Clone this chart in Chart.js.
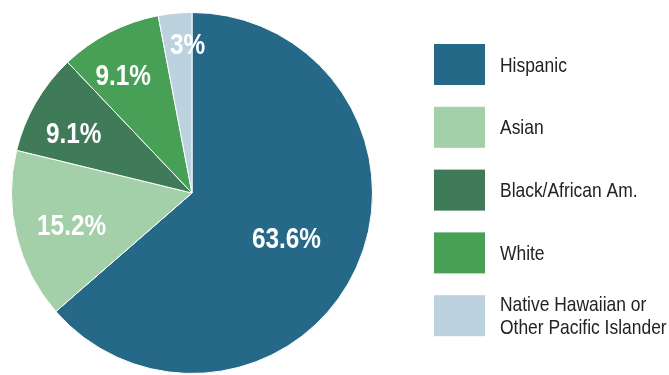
<!DOCTYPE html>
<html>
<head>
<meta charset="utf-8">
<script src="https://cdn.jsdelivr.net/npm/chart.js@4.4.1/dist/chart.umd.min.js"></script>
<style>
  html, body { margin: 0; padding: 0; background: #ffffff; overflow: hidden; }
  #wrap { position: relative; width: 669px; height: 375px; }
</style>
</head>
<body>
<div id="wrap"><canvas id="c" width="669" height="375"></canvas></div>
<script>
// Enrollment share by race/ethnicity
const categories = ['Hispanic', 'Asian', 'Black/African Am.', 'White', 'Native Hawaiian or Other Pacific Islander'];
const legendLines = [['Hispanic'], ['Asian'], ['Black/African Am.'], ['White'], ['Native Hawaiian or', 'Other Pacific Islander']];
const shares = [63.6, 15.2, 9.1, 9.1, 3.0];
const valueLabels = ['63.6%', '15.2%', '9.1%', '9.1%', '3%'];
const sliceColors = ['#266887', '#a3cfa9', '#3f7b58', '#48a057', '#bcd2de'];

const FONT = '"Liberation Sans", Arial, sans-serif';

// Draw text squeezed horizontally to get a narrow face
function narrowText(ctx, text, x, y, squeeze) {
  ctx.save();
  ctx.translate(x, y);
  ctx.scale(squeeze, 1);
  ctx.fillText(text, 0, 0);
  ctx.restore();
}

// Percent labels drawn inside each slice (radius fraction + small angular nudge)
const sliceLabels = {
  id: 'sliceLabels',
  afterDatasetsDraw(chart, args, opts) {
    const ctx = chart.ctx;
    const meta = chart.getDatasetMeta(0);
    ctx.save();
    ctx.fillStyle = '#ffffff';
    ctx.font = 'bold 29px ' + FONT;
    ctx.textAlign = 'center';
    ctx.textBaseline = 'alphabetic';
    meta.data.forEach((arc, i) => {
      const p = arc.getProps(['x', 'y', 'startAngle', 'endAngle', 'outerRadius'], true);
      const mid = (p.startAngle + p.endAngle) / 2 + opts.angleNudge[i] * Math.PI / 180;
      const r = p.outerRadius * opts.radiusFactor[i];
      narrowText(ctx, valueLabels[i], p.x + Math.cos(mid) * r, p.y + Math.sin(mid) * r + 11, 0.84);
    });
    ctx.restore();
  }
};

// Swatch legend at the right
const boxLegend = {
  id: 'boxLegend',
  afterDraw(chart, args, opts) {
    const ctx = chart.ctx;
    ctx.save();
    ctx.font = '21px ' + FONT;
    ctx.textBaseline = 'alphabetic';
    ctx.textAlign = 'left';
    legendLines.forEach((lines, i) => {
      const top = opts.top + i * opts.step;
      ctx.fillStyle = sliceColors[i];
      ctx.fillRect(opts.left, top, opts.boxW, opts.boxH);
      ctx.fillStyle = '#222222';
      const cy = top + opts.boxH / 2;
      const n = lines.length;
      lines.forEach((t, k) => {
        narrowText(ctx, t, opts.textX, cy + 7 + (k - (n - 1) / 2) * opts.lineH, 0.83);
      });
    });
    ctx.restore();
  }
};

new Chart(document.getElementById('c'), {
  type: 'pie',
  data: {
    labels: categories,
    datasets: [{
      data: shares,
      backgroundColor: sliceColors,
      borderColor: '#ffffff',
      borderWidth: 1
    }]
  },
  options: {
    responsive: false,
    animation: false,
    layout: { padding: { left: 11, top: 11, right: 296, bottom: 0 } },
    plugins: {
      legend: { display: false },
      tooltip: { enabled: false },
      sliceLabels: {
        radiusFactor: [0.577, 0.689, 0.738, 0.761, 0.83],
        angleNudge: [0.4, -0.8, -2.7, -2.9, 3.7]
      },
      boxLegend: { left: 434, top: 44, step: 62.8, boxW: 51, boxH: 41, textX: 500, lineH: 23 }
    }
  },
  plugins: [sliceLabels, boxLegend]
});
</script>
</body>
</html>
